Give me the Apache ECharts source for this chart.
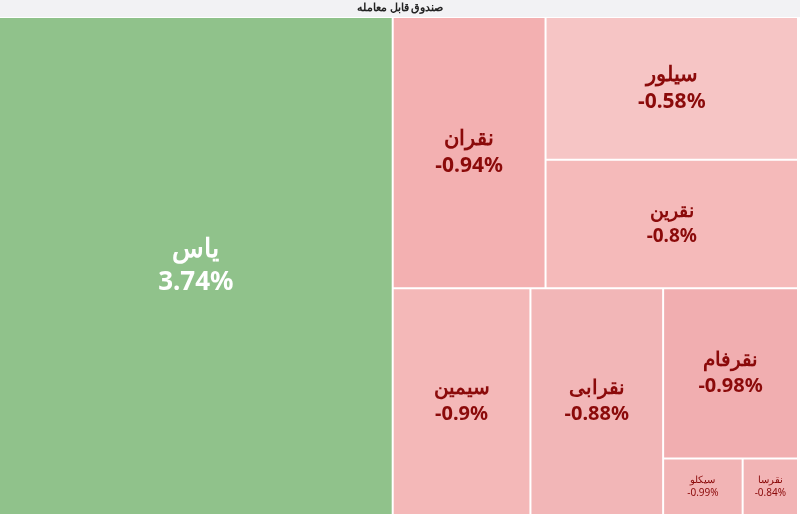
<!DOCTYPE html>
<html><head><meta charset="utf-8">
<script src="https://cdn.jsdelivr.net/npm/echarts@6/dist/echarts.min.js"></script>
<style>html,body{margin:0;padding:0;}#c{width:800px;height:514px;}</style>
</head><body><div id="c"></div>
<script>
const groupName = 'صندوق قابل معامله';
const names = ['یاس','نقران','سیلور','نقرین','سیمین','نقرابی','نقرفام','سیکلو','نقرسا'];
const sizes = [193440,40888,35532,32004,30825,29700,22680,4424,3080];
const changes = [3.74,-0.94,-0.58,-0.8,-0.9,-0.88,-0.98,-0.99,-0.84];
const colors = ['#90c28b','#f3b0b1','#f6c5c5','#f5baba','#f4b8b8','#f2b6b7','#f1aeb0','#f2b4b5','#f2b4b5'];
const fontSizes = [26,21,21,19,20,20,20,10,10];
const leaf = i => ({
  name:names[i], value:sizes[i], change:changes[i],
  itemStyle:{color:colors[i]},
  label:{show:true, fontSize:fontSizes[i], color: changes[i]>0?'#ffffff':'#8b0a0a', fontWeight: fontSizes[i]>12?'bold':'normal', lineHeight: fontSizes[i]*1.3}
});
const grp = (kids) => ({name:'', children:kids, value:kids.reduce((s,k)=>s+k.value,0), label:{show:false}, upperLabel:{show:false}});
const tree = [
  leaf(0),
  grp([
    grp([leaf(1), grp([leaf(2), leaf(3)])]),
    grp([leaf(4), grp([leaf(5), grp([leaf(6), grp([leaf(7), leaf(8)])])])])
  ])
];
const chart = echarts.init(document.getElementById('c'));
chart.setOption({
  graphic:[
    {type:'rect', left:0, top:0, shape:{width:800,height:17}, style:{fill:'#f2f2f4'}},
    {type:'text', left:'center', top:2, style:{text:groupName, fill:'#222', font:'bold 11px "Noto Sans"'}}
  ],
  series:[{
    type:'treemap', left:0, top:18, right:3, bottom:0, sort:false, squareRatio:1,
    roam:false, nodeClick:false, breadcrumb:{show:false}, animation:false,
    itemStyle:{borderWidth:0,gapWidth:2,borderColor:'#ffffff',color:'#ffffff'},
    label:{show:true, position:'inside', align:'center', verticalAlign:'middle', fontFamily:'Noto Sans',
      formatter:p=>p.data.name+'\n'+p.data.change+'%'},
    upperLabel:{show:false},
    levels:[{itemStyle:{borderWidth:0,gapWidth:2}}],
    data:tree
  }]
});
</script></body></html>
